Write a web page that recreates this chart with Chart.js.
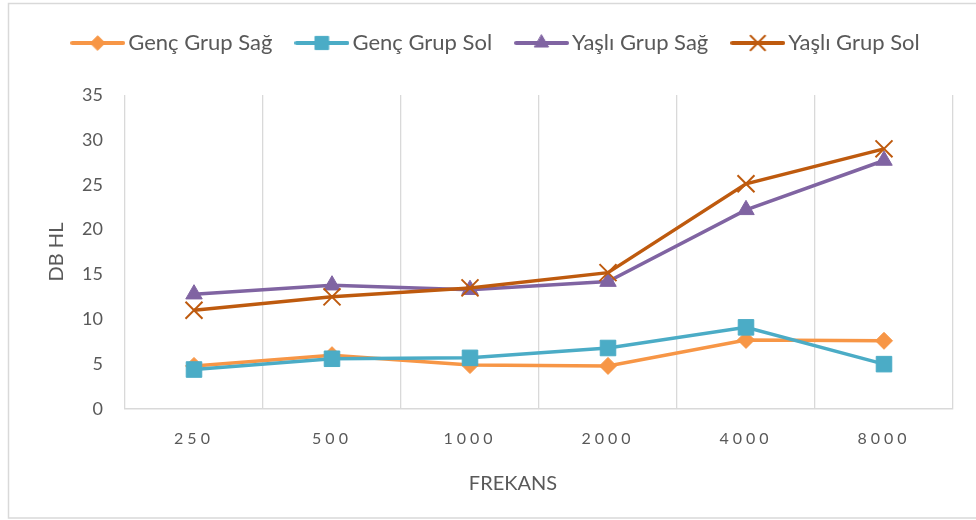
<!DOCTYPE html>
<html>
<head>
<meta charset="utf-8">
<script src="https://cdn.jsdelivr.net/npm/chart.js@4/dist/chart.umd.min.js"></script>
<style>
  html, body { margin: 0; padding: 0; background: #ffffff; }
  #wrap { position: relative; width: 976px; height: 520px; }
</style>
</head>
<body>
<div id="wrap"><canvas id="c" width="976" height="520"></canvas></div>
<script>
const categories = ['250', '500', '1000', '2000', '4000', '8000'];
const gencSag = [4.8, 6.0, 4.9, 4.8, 7.7, 7.6];
const gencSol = [4.4, 5.6, 5.7, 6.8, 9.1, 5.0];
const yasliSag = [12.8, 13.8, 13.3, 14.2, 22.2, 27.7];
const yasliSol = [11.0, 12.5, 13.5, 15.2, 25.1, 29.0];
const seriesNames = ['Genç Grup Sağ', 'Genç Grup Sol', 'Yaşlı Grup Sağ', 'Yaşlı Grup Sol'];
const yTicks = [0, 5, 10, 15, 20, 25, 30, 35];

const colors = ['#F79646', '#4BACC6', '#8064A2', '#BE5A0E'];
const styles = [
  { pointStyle: 'rectRot', radius: 8.5, bw: 1 },
  { pointStyle: 'rect', radius: 11, bw: 1 },
  { pointStyle: 'triangle', radius: 9.5, bw: 1 },
  { pointStyle: 'crossRot', radius: 12, bw: 2 }
];
const FONT = 'Lato, "Open Sans", sans-serif';
const TXT = '#595959';
const LEG_FS = 22;
const ICON_W = 55;
const ICON_GAP = 3;
const LEG_PW = 2 * (ICON_W / 2 + ICON_GAP - LEG_FS / 2);
const TOP_PAD = 2;

function makeIcon(i) {
  const cv = document.createElement('canvas');
  cv.width = ICON_W; cv.height = 24;
  const g = cv.getContext('2d');
  g.strokeStyle = colors[i]; g.fillStyle = colors[i];
  g.lineWidth = 4; g.lineCap = 'round';
  g.beginPath(); g.moveTo(2, 12); g.lineTo(ICON_W - 2, 12); g.stroke();
  g.lineWidth = styles[i].bw;
  Chart.helpers.drawPoint(g, { pointStyle: styles[i].pointStyle, radius: styles[i].radius * 0.85, rotation: 0, borderWidth: styles[i].bw }, ICON_W / 2, 12);
  return cv;
}

const seriesData = [gencSag, gencSol, yasliSag, yasliSol];
const datasets = seriesData.map((d, i) => ({
  label: seriesNames[i],
  data: d,
  borderColor: colors[i],
  backgroundColor: colors[i],
  borderWidth: 3.5,
  tension: 0,
  pointStyle: styles[i].pointStyle,
  pointRadius: styles[i].radius,
  pointHoverRadius: styles[i].radius,
  pointBorderWidth: styles[i].bw,
  pointBorderColor: colors[i],
  pointBackgroundColor: colors[i],
  order: 4 - i
}));

const icons = [0, 1, 2, 3].map(makeIcon);

const framePlugin = {
  id: 'frame',
  beforeDraw(chart) {
    const ctx = chart.ctx;
    ctx.save();
    ctx.strokeStyle = '#D9D9D9';
    ctx.lineWidth = 1.5;
    ctx.beginPath();
    ctx.moveTo(976, 3.5); ctx.lineTo(8.5, 3.5); ctx.lineTo(8.5, 518); ctx.lineTo(976, 518);
    ctx.stroke();
    ctx.restore();
  },
  afterUpdate(chart) {
    const sx = chart.scales.x;
    if (sx && !sx._lsWrapped) {
      const origLabels = sx.drawLabels;
      sx.drawLabels = function (a) {
        const c = this.ctx;
        c.save();
        c.letterSpacing = '4px';
        origLabels.call(this, a);
        c.restore();
      };
      const origTitle = sx.drawTitle;
      sx.drawTitle = function (a) {
        const c = this.ctx;
        c.save();
        c.translate(-26, 0);
        origTitle.call(this, a);
        c.restore();
      };
      sx._lsWrapped = true;
    }
  }
};

const legendHeightPlugin = {
  id: 'legendHeight',
  beforeInit(chart) {
    const lg = chart.legend;
    const origFit = lg.fit;
    lg.fit = function () {
      origFit.call(this);
      this.height = 95 - TOP_PAD;
    };
  }
};

new Chart(document.getElementById('c'), {
  type: 'line',
  data: { labels: categories, datasets },
  plugins: [framePlugin, legendHeightPlugin],
  options: {
    responsive: false,
    animation: false,
    layout: { padding: { left: 45, right: 23, top: TOP_PAD, bottom: 0 } },
    plugins: {
      tooltip: { enabled: false },
      legend: {
        position: 'top',
        align: 'center',
        labels: {
          usePointStyle: true,
          pointStyleWidth: LEG_PW,
          padding: 30,
          color: TXT,
          font: { family: FONT, size: LEG_FS },
          generateLabels(chart) {
            return chart.data.datasets.map((ds, i) => ({
              text: ds.label,
              pointStyle: icons[i],
              fillStyle: colors[i],
              strokeStyle: colors[i],
              lineWidth: 0,
              hidden: false,
              datasetIndex: i,
              fontColor: TXT
            }));
          }
        }
      }
    },
    scales: {
      x: {
        offset: true,
        grid: { display: true, offset: true, color: '#D9D9D9', lineWidth: 1.3, drawTicks: false },
        border: { display: true, color: '#D9D9D9', width: 1.5 },
        ticks: { color: TXT, font: { family: FONT, size: 16 }, padding: 20, maxRotation: 0 },
        title: { display: true, text: 'FREKANS', color: TXT, font: { family: FONT, size: 20 }, padding: { top: 0, bottom: 24 } },
        afterFit(scale) { scale.height = 520 - 409; }
      },
      y: {
        min: 0,
        max: 35,
        afterBuildTicks(scale) { scale.ticks = yTicks.map(v => ({ value: v })); },
        grid: { display: false, drawTicks: false },
        border: { display: false },
        ticks: { color: TXT, font: { family: FONT, size: 18 }, padding: 22 },
        title: { display: true, text: 'DB HL', color: TXT, font: { family: FONT, size: 20 }, padding: { top: 0, bottom: 0 } },
        afterFit(scale) { scale.width = 125 - 45; }
      }
    }
  }
});
</script>
</body>
</html>
